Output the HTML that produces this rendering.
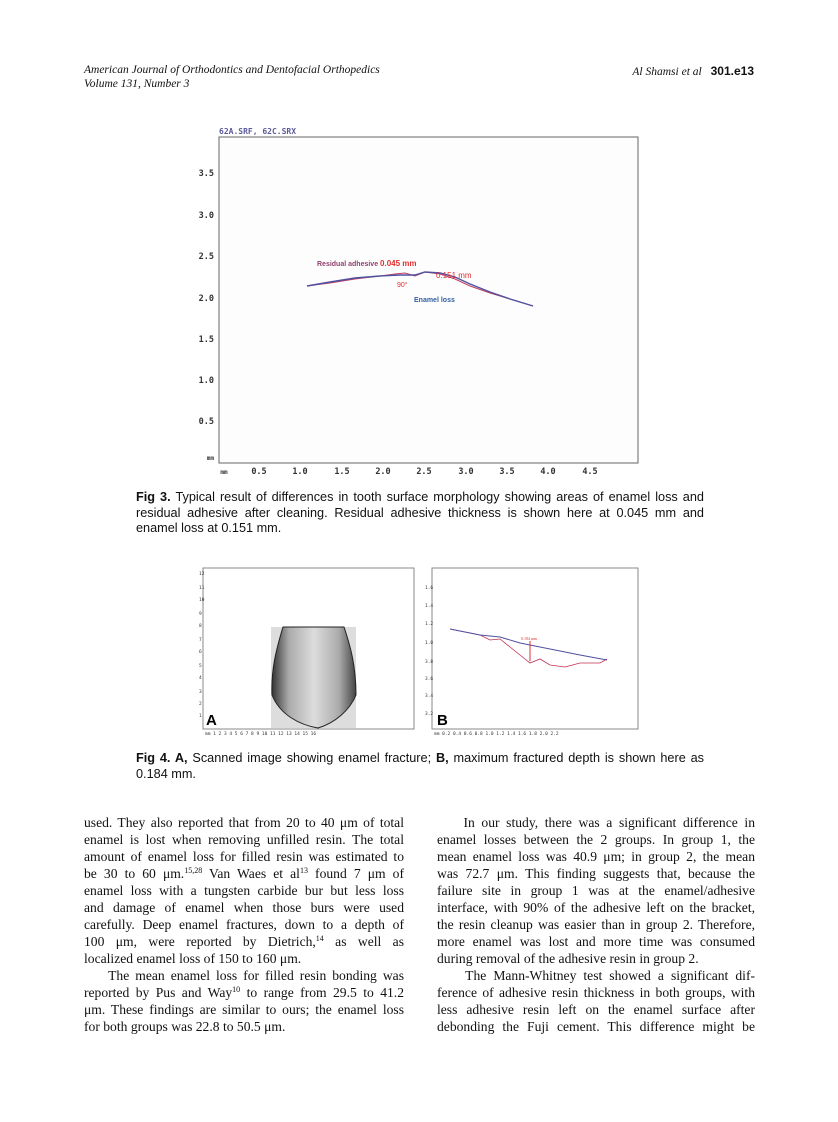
<!DOCTYPE html>
<html><head><meta charset="utf-8"><style>
body{margin:0;background:#fff;}
#p{position:relative;width:838px;height:1122px;overflow:hidden;font-family:"Liberation Serif",serif;color:#111;}
.a{position:absolute;white-space:nowrap;}
.hd{font-family:"Liberation Serif",serif;font-style:italic;font-size:11.5px;}
.cap{font-family:"Liberation Sans",sans-serif;font-size:12.7px;position:absolute;left:136px;width:568px;line-height:15.5px;text-align:justify;}
.col{position:absolute;font-size:13.6px;}
.col div{height:17px;line-height:17px;text-align:justify;text-align-last:justify;white-space:nowrap;}
.col div.l{text-align-last:left;}
sup{font-size:8px;line-height:0;vertical-align:5px;}
.t{font-family:"DejaVu Sans Mono",monospace;font-size:8.5px;font-weight:bold;fill:#333;}
</style></head><body><div id="p">
<div class="a hd" style="left:84px;top:64px;">American Journal of Orthodontics and Dentofacial Orthopedics</div>
<div class="a hd" style="left:84px;top:78px;">Volume 131, Number 3</div>
<div class="a hd" style="right:84px;top:64px;">Al Shamsi et al <span style="font-style:normal;font-weight:bold;font-family:'Liberation Sans',sans-serif;font-size:12px;margin-left:6px;">301.e13</span></div>

<svg class="a" style="left:0;top:0" width="838" height="560">
<rect x="219" y="137" width="419" height="326" fill="#fdfdfd" stroke="#666" stroke-width="1"/>
<text x="219" y="134" style="font-family:'DejaVu Sans Mono',monospace;font-size:8px;font-weight:bold" fill="#5a5a9a">62A.SRF, 62C.SRX</text>
<g class="t" text-anchor="end">
<text x="214" y="176">3.5</text><text x="214" y="218">3.0</text><text x="214" y="259">2.5</text><text x="214" y="301">2.0</text><text x="214" y="342">1.5</text><text x="214" y="383">1.0</text><text x="214" y="424">0.5</text><text x="214" y="460" style="font-size:6px">mm</text>
</g>
<g class="t" text-anchor="middle">
<text x="224" y="474" style="font-size:6px">mm</text><text x="259" y="474">0.5</text><text x="300" y="474">1.0</text><text x="342" y="474">1.5</text><text x="383" y="474">2.0</text><text x="424" y="474">2.5</text><text x="466" y="474">3.0</text><text x="507" y="474">3.5</text><text x="548" y="474">4.0</text><text x="590" y="474">4.5</text>
</g>
<polyline fill="none" stroke="#c04060" stroke-width="1" points="307,286 330,283 355,279 380,276 395,274 405,273 415,276 425,272 440,274 455,279 470,286 490,293 510,299 533,306"/>
<polyline fill="none" stroke="#5050a0" stroke-width="1.4" points="307,286 330,282 355,278 380,276 400,275 415,275 425,272 440,273 455,277 470,284 490,292 510,299 533,306"/>
<text x="317" y="266" style="font-family:'Liberation Sans',sans-serif;font-size:7px;font-weight:bold" fill="#904070">Residual adhesive <tspan fill="#e03030" font-size="8">0.045 mm</tspan></text>
<text x="436" y="278" style="font-family:'Liberation Sans',sans-serif;font-size:8px" fill="#e03030">0.151 mm</text>
<text x="397" y="287" style="font-family:'Liberation Sans',sans-serif;font-size:7px" fill="#e03030">90°</text>
<text x="414" y="302" style="font-family:'Liberation Sans',sans-serif;font-size:7px;font-weight:bold" fill="#3060a0">Enamel loss</text>
</svg>

<div class="cap" style="top:490px;"><b>Fig 3.</b> Typical result of differences in tooth surface morphology showing areas of enamel loss and residual adhesive after cleaning. Residual adhesive thickness is shown here at 0.045 mm and enamel loss at 0.151 mm.</div>

<svg class="a" style="left:0;top:555px" width="838" height="185">
<rect x="203" y="13" width="211" height="161" fill="#fff" stroke="#888"/>
<rect x="432" y="13" width="206" height="161" fill="#fff" stroke="#888"/>
<defs><linearGradient id="g" x1="0" x2="1"><stop offset="0" stop-color="#333"/><stop offset="0.2" stop-color="#aaa"/><stop offset="0.5" stop-color="#ddd"/><stop offset="0.8" stop-color="#aaa"/><stop offset="1" stop-color="#444"/></linearGradient></defs>
<rect x="271" y="72" width="85" height="101" fill="#ddd"/>
<path d="M283,72 C276,95 271,115 272,140 C280,160 300,170 318,173 C335,168 350,155 356,140 C356,110 350,90 344,72 Z" fill="url(#g)" stroke="#222"/>
<text x="206" y="170" style="font-family:'Liberation Sans',sans-serif;font-size:15px;font-weight:bold">A</text>
<text x="437" y="170" style="font-family:'Liberation Sans',sans-serif;font-size:15px;font-weight:bold">B</text>
<polyline fill="none" stroke="#c03050" stroke-width="0.8" points="450,74 480,80 490,85 500,84 510,92 520,100 530,108 540,104 550,110 565,112 580,108 600,108 607,104"/>
<polyline fill="none" stroke="#5050a0" stroke-width="1" points="450,74 480,80 500,82 520,88 540,92 560,96 580,100 607,105"/>
<line x1="530" y1="86" x2="530" y2="106" stroke="#e03030"/>
<text x="521" y="85" font-size="4" fill="#e03030">0.184 mm</text>
<g font-size="4.5" fill="#333" font-family="DejaVu Sans Mono,monospace">
<text x="199" y="20">12</text><text x="199" y="34">11</text><text x="199" y="46">10</text><text x="199" y="60">9</text><text x="199" y="72">8</text><text x="199" y="86">7</text><text x="199" y="98">6</text><text x="199" y="112">5</text><text x="199" y="124">4</text><text x="199" y="138">3</text><text x="199" y="150">2</text><text x="199" y="162">1</text>
<text x="425" y="34">1.6</text><text x="425" y="52">1.4</text><text x="425" y="70">1.2</text><text x="425" y="89">1.0</text><text x="425" y="108">3.8</text><text x="425" y="125">3.6</text><text x="425" y="142">3.4</text><text x="425" y="160">3.2</text>
<text x="205" y="180">mm 1  2  3  4  5  6  7  8  9  10 11 12 13 14 15 16</text>
<text x="434" y="180">mm 0.2 0.4 0.6 0.8 1.0 1.2 1.4 1.6 1.8 2.0 2.2</text>
</g>
</svg>

<div class="cap" style="top:751px;"><b>Fig 4. A,</b> Scanned image showing enamel fracture; <b>B,</b> maximum fractured depth is shown here as 0.184 mm.</div>

<div class="col" style="left:84px;top:814px;width:320px;">
<div>used. They also reported that from 20 to 40 μm of total</div>
<div>enamel is lost when removing unfilled resin. The total</div>
<div>amount of enamel loss for filled resin was estimated to</div>
<div>be 30 to 60 μm.<sup>15,28</sup> Van Waes et al<sup>13</sup> found 7 μm of</div>
<div>enamel loss with a tungsten carbide bur but less loss</div>
<div>and damage of enamel when those burs were used</div>
<div>carefully. Deep enamel fractures, down to a depth of</div>
<div>100 μm, were reported by Dietrich,<sup>14</sup> as well as</div>
<div class="l">localized enamel loss of 150 to 160 μm.</div>
<div>&nbsp;&nbsp;&nbsp;&nbsp;The mean enamel loss for filled resin bonding was</div>
<div>reported by Pus and Way<sup>10</sup> to range from 29.5 to 41.2</div>
<div>μm. These findings are similar to ours; the enamel loss</div>
<div class="l">for both groups was 22.8 to 50.5 μm.</div>
</div>
<div class="col" style="left:437px;top:814px;width:318px;">
<div>&nbsp;&nbsp;&nbsp;&nbsp;In our study, there was a significant difference in</div>
<div>enamel losses between the 2 groups. In group 1, the</div>
<div>mean enamel loss was 40.9 μm; in group 2, the mean</div>
<div>was 72.7 μm. This finding suggests that, because the</div>
<div>failure site in group 1 was at the enamel/adhesive</div>
<div>interface, with 90% of the adhesive left on the bracket,</div>
<div>the resin cleanup was easier than in group 2. Therefore,</div>
<div>more enamel was lost and more time was consumed</div>
<div class="l">during removal of the adhesive resin in group 2.</div>
<div>&nbsp;&nbsp;&nbsp;&nbsp;The Mann-Whitney test showed a significant dif-</div>
<div>ference of adhesive resin thickness in both groups, with</div>
<div>less adhesive resin left on the enamel surface after</div>
<div>debonding the Fuji cement. This difference might be</div>
</div>
</div></body></html>
